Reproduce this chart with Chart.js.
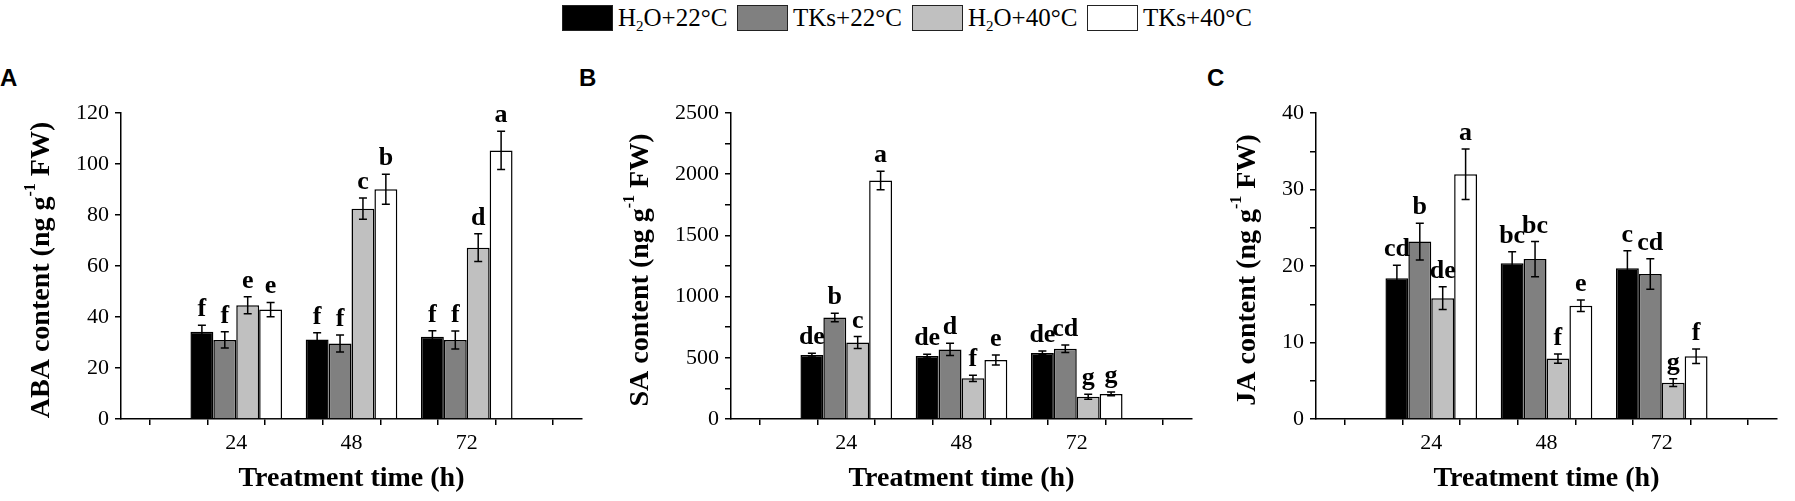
<!DOCTYPE html>
<html lang="en">
<head>
    <meta charset="UTF-8">
    <title>ABA, SA and JA content</title>
    <script src="https://cdn.jsdelivr.net/npm/chart.js"></script>
    <style>
        body {
            margin: 0;
            width: 1795px;
            height: 501px;
            position: relative;
            background: #fff;
            font-family: "Liberation Serif", serif;
            overflow: hidden;
        }
        .panel {
            position: absolute;
            top: 0;
            width: 600px;
            height: 501px;
        }
        .tag {
            position: absolute;
            font: bold 24px "Liberation Sans", Arial, sans-serif;
            line-height: 24px;
            top: 66px;
        }
        #legend {
            position: absolute;
            top: 4px;
            left: 562px;
            display: flex;
        }
        .item {
            display: flex;
            align-items: center;
            width: 175px;
            font-size: 25px;
            line-height: 27px;
            color: #000;
        }
        .box {
            width: 49px;
            height: 24px;
            border: 1.5px solid #222;
            margin-right: 5px;
        }
        .item sub {
            font-size: 0.6em;
            vertical-align: -0.3em;
            line-height: 0;
        }
    </style>
</head>
<body>
    <div id="legend"></div>

    <div class="tag" style="left:0px">A</div>
    <div class="tag" style="left:579px">B</div>
    <div class="tag" style="left:1207px">C</div>

    <div class="panel" style="left:0px"><canvas id="chartA"></canvas></div>
    <div class="panel" style="left:610px"><canvas id="chartB"></canvas></div>
    <div class="panel" style="left:1195px"><canvas id="chartC"></canvas></div>

    <script>
        // categories on the time axis (slots every 12 h, only 24/48/72 hold bars)
        const times = ['24', '48', '72'];
        const timeSlots = ['0', '12', '24', '36', '48', '60', '72', '84', '96'];

        // treatments (legend order)
        const treatments = ['H<sub>2</sub>O+22°C', 'TKs+22°C', 'H<sub>2</sub>O+40°C', 'TKs+40°C'];
        const barColors = ['#000000', '#808080', '#c0c0c0', '#ffffff'];

        // ABA content (ng g-1 FW)
        const abaH2O22 = [34.2, 31.2, 32.3];
        const abaTKs22 = [31.0, 29.6, 31.0];
        const abaH2O40 = [44.6, 82.5, 67.2];
        const abaTKs40 = [42.9, 90.1, 105.3];
        const abaErrH2O22 = [2.6, 2.6, 2.3];
        const abaErrTKs22 = [3.2, 3.3, 3.5];
        const abaErrH2O40 = [3.3, 4.2, 5.4];
        const abaErrTKs40 = [2.8, 5.9, 7.5];
        const abaLetH2O22 = ['f', 'f', 'f'];
        const abaLetTKs22 = ['f', 'f', 'f'];
        const abaLetH2O40 = ['e', 'c', 'd'];
        const abaLetTKs40 = ['e', 'b', 'a'];

        // SA content (ng g-1 FW)
        const saH2O22 = [522, 514, 540];
        const saTKs22 = [829, 568, 574];
        const saH2O40 = [625, 332, 182];
        const saTKs40 = [1948, 482, 205];
        const saErrH2O22 = [15, 15, 16];
        const saErrTKs22 = [35, 50, 30];
        const saErrH2O40 = [48, 26, 20];
        const saErrTKs40 = [76, 41, 16];
        const saLetH2O22 = ['de', 'de', 'de'];
        const saLetTKs22 = ['b', 'd', 'cd'];
        const saLetH2O40 = ['c', 'f', 'g'];
        const saLetTKs40 = ['a', 'e', 'g'];

        // JA content (ng g-1 FW)
        const jaH2O22 = [18.4, 20.35, 19.7];
        const jaTKs22 = [23.2, 20.9, 18.95];
        const jaH2O40 = [15.8, 7.9, 4.75];
        const jaTKs40 = [32.0, 14.8, 8.2];
        const jaErrH2O22 = [1.7, 1.5, 2.3];
        const jaErrTKs22 = [2.4, 2.3, 2.0];
        const jaErrH2O40 = [1.5, 0.6, 0.5];
        const jaErrTKs40 = [3.3, 0.75, 0.95];
        const jaLetH2O22 = ['cd', 'bc', 'c'];
        const jaLetTKs22 = ['b', 'bc', 'cd'];
        const jaLetH2O40 = ['de', 'f', 'g'];
        const jaLetTKs40 = ['a', 'e', 'f'];

        // y axis ranges
        const abaTicks = { max: 120, step: 10, major: 20 };
        const saTicks = { max: 2500, step: 250, major: 500 };
        const jaTicks = { max: 40, step: 5, major: 10 };

        // legend
        const legend = document.getElementById('legend');
        treatments.forEach((t, i) => {
            const item = document.createElement('div');
            item.className = 'item';
            item.innerHTML = '<span class="box" style="background:' + barColors[i] + '"></span><span>' + t + '</span>';
            legend.appendChild(item);
        });

        // put the three time values into their slots on the 0-96 axis
        function toSlots(values) {
            return timeSlots.map(s => {
                const k = times.indexOf(s);
                return k >= 0 ? values[k] : null;
            });
        }

        const serif = '"Liberation Serif", "Times New Roman", serif';

        // error bars, significance letters and the y title with superscript
        const panelExtras = {
            id: 'panelExtras',
            afterDatasetsDraw(chart, args, opts) {
                const ctx = chart.ctx;
                const y = chart.scales.y;
                ctx.save();
                ctx.strokeStyle = '#000';
                ctx.fillStyle = '#000';
                ctx.lineWidth = 1.5;
                ctx.font = 'bold 26px ' + serif;
                ctx.textAlign = 'center';
                ctx.textBaseline = 'alphabetic';
                chart.data.datasets.forEach((ds, i) => {
                    const meta = chart.getDatasetMeta(i);
                    times.forEach((t, k) => {
                        const slot = timeSlots.indexOf(t);
                        const bar = meta.data[slot];
                        const v = ds.data[slot];
                        const e = opts.errors[i][k];
                        const top = y.getPixelForValue(v + e);
                        const bot = y.getPixelForValue(v - e);
                        ctx.beginPath();
                        ctx.moveTo(bar.x, top);
                        ctx.lineTo(bar.x, bot);
                        ctx.moveTo(bar.x - 4, top);
                        ctx.lineTo(bar.x + 4, top);
                        ctx.moveTo(bar.x - 4, bot);
                        ctx.lineTo(bar.x + 4, bot);
                        ctx.stroke();
                        ctx.fillText(opts.letters[i][k], bar.x, top - 9);
                    });
                });
                ctx.restore();
            },
            afterDraw(chart, args, opts) {
                const ctx = chart.ctx;
                const y = chart.scales.y;
                const area = chart.chartArea;
                ctx.save();
                ctx.font = '22px ' + serif;
                let lw = 0;
                y.ticks.forEach(t => {
                    const s = y.options.ticks.callback(t.value);
                    lw = Math.max(lw, ctx.measureText(String(s)).width);
                });
                const tx = area.left - 12 - lw - 34;
                const cy = (area.top + area.bottom) / 2 + 4;
                const main = 'bold 28px ' + serif;
                const sup = 'bold 16px ' + serif;
                const parts = [[opts.yTitle[0], main, 0], ['-1', sup, -11], [opts.yTitle[1], main, 0]];
                let total = 0;
                parts.forEach(p => { ctx.font = p[1]; total += ctx.measureText(p[0]).width; });
                ctx.translate(tx, cy);
                ctx.rotate(-Math.PI / 2);
                ctx.fillStyle = '#000';
                ctx.textAlign = 'left';
                ctx.textBaseline = 'middle';
                let x = -total / 2;
                parts.forEach(p => {
                    ctx.font = p[1];
                    ctx.fillText(p[0], x, p[2]);
                    x += ctx.measureText(p[0]).width;
                });
                ctx.restore();
            }
        };

        function makePanel(id, series, errors, letters, range, yTitle) {
            const datasets = series.map((s, i) => ({
                label: treatments[i],
                data: toSlots(s),
                backgroundColor: barColors[i],
                borderColor: '#000',
                borderWidth: 1.5,
                categoryPercentage: 1.59,
                barPercentage: 1.0
            }));
            return new Chart(document.getElementById(id), {
                type: 'bar',
                data: { labels: timeSlots, datasets: datasets },
                plugins: [panelExtras],
                options: {
                    responsive: true,
                    maintainAspectRatio: false,
                    animation: false,
                    layout: { padding: { left: 0, top: 113, right: 18, bottom: 0 } },
                    plugins: {
                        legend: { display: false },
                        tooltip: { enabled: false },
                        panelExtras: { errors: errors, letters: letters, yTitle: yTitle }
                    },
                    scales: {
                        x: {
                            offset: false,
                            afterFit: scale => { scale.height = 82; },
                            border: { display: true, color: '#000', width: 1.5 },
                            grid: { display: true, drawOnChartArea: false, drawTicks: true, tickLength: 6, color: '#000', lineWidth: 1.5 },
                            ticks: {
                                autoSkip: false,
                                maxRotation: 0,
                                padding: 5,
                                color: '#000',
                                font: { family: serif, size: 22 },
                                callback: function (val) {
                                    const l = this.getLabelForValue(val);
                                    return times.includes(l) ? l : '';
                                }
                            },
                            title: {
                                display: true,
                                text: 'Treatment time (h)',
                                color: '#000',
                                font: { family: serif, size: 28, weight: 'bold' },
                                padding: { top: 0, bottom: 5 }
                            }
                        },
                        y: {
                            min: 0,
                            max: range.max,
                            afterFit: scale => { scale.width = 121; },
                            border: { display: true, color: '#000', width: 1.5 },
                            grid: { display: true, drawOnChartArea: false, drawTicks: true, tickLength: 6, color: '#000', lineWidth: 1.5 },
                            ticks: {
                                stepSize: range.step,
                                padding: 6,
                                color: '#000',
                                font: { family: serif, size: 22 },
                                callback: v => (v % range.major === 0 ? v : '')
                            },
                            title: { display: false }
                        }
                    }
                }
            });
        }

        makePanel('chartA',
            [abaH2O22, abaTKs22, abaH2O40, abaTKs40],
            [abaErrH2O22, abaErrTKs22, abaErrH2O40, abaErrTKs40],
            [abaLetH2O22, abaLetTKs22, abaLetH2O40, abaLetTKs40],
            abaTicks, ['ABA content (ng g', ' FW)']);

        makePanel('chartB',
            [saH2O22, saTKs22, saH2O40, saTKs40],
            [saErrH2O22, saErrTKs22, saErrH2O40, saErrTKs40],
            [saLetH2O22, saLetTKs22, saLetH2O40, saLetTKs40],
            saTicks, ['SA content (ng g', ' FW)']);

        makePanel('chartC',
            [jaH2O22, jaTKs22, jaH2O40, jaTKs40],
            [jaErrH2O22, jaErrTKs22, jaErrH2O40, jaErrTKs40],
            [jaLetH2O22, jaLetTKs22, jaLetH2O40, jaLetTKs40],
            jaTicks, ['JA content (ng g', ' FW)']);
    </script>
</body>
</html>
